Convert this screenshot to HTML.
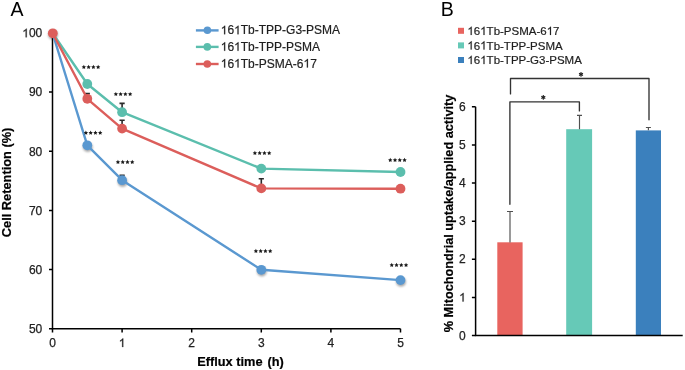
<!DOCTYPE html>
<html><head><meta charset="utf-8">
<style>
html,body{margin:0;padding:0;background:#fff;width:685px;height:370px;overflow:hidden}
svg{display:block;will-change:transform}
text{font-family:"Liberation Sans",sans-serif}
.tk{font-size:12px;fill:#222;stroke:#222;stroke-width:0.25px}
.ttl{font-size:12.8px;font-weight:bold;fill:#000;stroke:#000;stroke-width:0.2px}
.one{fill-opacity:0;stroke-opacity:0}
.lg{font-size:12px;fill:#1e1e1e;stroke:#1e1e1e;stroke-width:0.2px}
</style></head>
<body>
<svg width="685" height="370" viewBox="0 0 685 370">
<defs>
<filter id="blur" x="-50%" y="-50%" width="200%" height="200%"><feGaussianBlur stdDeviation="1.3"/></filter>
<path id="star" d="M0.00 -2.30 L0.68 -0.93 L2.19 -0.71 L1.09 0.36 L1.35 1.86 L0.00 1.15 L-1.35 1.86 L-1.09 0.36 L-2.19 -0.71 L-0.68 -0.93Z"/>
</defs>
<!-- Panel A -->
<text x="10.5" y="15.5" style="font-size:19.5px">A</text>
<g stroke="#000" stroke-width="1.5" fill="none">
<path d="M52.5 33 V328.8 H400.5"/>
<path d="M49 33.0H52.5 M49 92.1H52.5 M49 151.3H52.5 M49 210.4H52.5 M49 269.5H52.5 M49 328.8H52.5"/>
<path d="M52.5 328.8V332.6 M122.1 328.8V332.6 M191.7 328.8V332.6 M261.3 328.8V332.6 M330.9 328.8V332.6 M400.5 328.8V332.6"/>
</g>
<g class="tk" text-anchor="end">
<text x="42.3" y="37.3"><tspan class="one">1</tspan>00</text>
<text x="42.3" y="96.4">90</text>
<text x="42.3" y="155.6">80</text>
<text x="42.3" y="214.7">70</text>
<text x="42.3" y="273.8">60</text>
<text x="42.3" y="333.1">50</text>
</g>
<g class="tk" text-anchor="middle">
<text x="52.5" y="347">0</text><text x="122.1" y="347"><tspan class="one">1</tspan></text><text x="191.7" y="347">2</text><text x="261.3" y="347">3</text><text x="330.9" y="347">4</text><text x="400.5" y="347">5</text>
</g>
<g transform="translate(0 365.5) scale(1 1.06)"><text class="ttl" x="197.2" y="0">Efflux time</text><text class="ttl" x="267.4" y="0">(h)</text></g>
<text class="ttl" transform="translate(10.8 182.4) rotate(-90)" text-anchor="middle">Cell Retention (%)</text>
<!-- shadows -->
<g fill="#000" fill-opacity="0.34" filter="url(#blur)"><circle cx="53.0" cy="34.8" r="4.90"/><circle cx="87.8" cy="147.1" r="4.90"/><circle cx="122.6" cy="182.0" r="4.90"/><circle cx="261.8" cy="271.6" r="4.90"/><circle cx="401.0" cy="281.9" r="4.90"/></g>
<!-- error bars -->
<g stroke="#2a2a2a" stroke-width="1.6" fill="none"><path d="M87.3 98.8V93.6 M84.7 93.6H89.9"/><path d="M122.1 112.2V103.4 M119.5 103.4H124.7"/><path d="M122.1 128.6V120.2 M119.5 120.2H124.7"/><path d="M122.1 180.2V175.3 M119.5 175.3H124.7"/><path d="M261.3 188.4V178.8 M258.7 178.8H263.9"/></g>
<!-- series -->
<g fill="none" stroke-width="2.4" stroke-linejoin="round">
<polyline stroke="#5A98D0" points="52.5,33.0 87.3,145.3 122.1,180.2 261.3,269.8 400.5,280.1"/>
<polyline stroke="#5BBEAD" points="52.5,33.0 87.3,84.0 122.1,112.2 261.3,168.6 400.5,172.0"/>
<polyline stroke="#DC5E5B" points="52.5,33.0 87.3,98.8 122.1,128.6 261.3,188.4 400.5,188.7"/>
</g>
<g fill="#5A98D0"><circle cx="87.3" cy="145.3" r="4.90"/><circle cx="122.1" cy="180.2" r="4.90"/><circle cx="261.3" cy="269.8" r="4.90"/><circle cx="400.5" cy="280.1" r="4.90"/></g>
<g fill="#5BBEAD"><circle cx="87.3" cy="84.0" r="4.90"/><circle cx="122.1" cy="112.2" r="4.90"/><circle cx="261.3" cy="168.6" r="4.90"/><circle cx="400.5" cy="172.0" r="4.90"/></g>
<g fill="#DC5E5B"><circle cx="87.3" cy="98.8" r="4.90"/><circle cx="122.1" cy="128.6" r="4.90"/><circle cx="261.3" cy="188.4" r="4.90"/><circle cx="400.5" cy="188.7" r="4.90"/><circle cx="52.8" cy="33.3" r="4.90"/></g>
<!-- stars -->
<g fill="#1a1a1a">
<use href="#star" x="83.85" y="67.10"/><use href="#star" x="88.62" y="67.10"/><use href="#star" x="93.38" y="67.10"/><use href="#star" x="98.15" y="67.10"/>
<use href="#star" x="115.85" y="94.20"/><use href="#star" x="120.62" y="94.20"/><use href="#star" x="125.38" y="94.20"/><use href="#star" x="130.15" y="94.20"/>
<use href="#star" x="85.90" y="132.90"/><use href="#star" x="90.67" y="132.90"/><use href="#star" x="95.43" y="132.90"/><use href="#star" x="100.20" y="132.90"/>
<use href="#star" x="117.95" y="162.10"/><use href="#star" x="122.72" y="162.10"/><use href="#star" x="127.48" y="162.10"/><use href="#star" x="132.25" y="162.10"/>
<use href="#star" x="254.90" y="153.10"/><use href="#star" x="259.67" y="153.10"/><use href="#star" x="264.43" y="153.10"/><use href="#star" x="269.20" y="153.10"/>
<use href="#star" x="390.25" y="160.10"/><use href="#star" x="395.02" y="160.10"/><use href="#star" x="399.78" y="160.10"/><use href="#star" x="404.55" y="160.10"/>
<use href="#star" x="255.90" y="251.10"/><use href="#star" x="260.67" y="251.10"/><use href="#star" x="265.43" y="251.10"/><use href="#star" x="270.20" y="251.10"/>
<use href="#star" x="391.75" y="265.10"/><use href="#star" x="396.52" y="265.10"/><use href="#star" x="401.28" y="265.10"/><use href="#star" x="406.05" y="265.10"/>
</g>
<!-- legend A -->
<g stroke-width="2.4">
<line x1="195.9" y1="30.4" x2="218.6" y2="30.4" stroke="#5A98D0"/>
<line x1="195.9" y1="46.9" x2="218.6" y2="46.9" stroke="#5BBEAD"/>
<line x1="195.9" y1="64" x2="218.6" y2="64" stroke="#DC5E5B"/>
</g>
<circle cx="207.4" cy="30.3" r="3.8" fill="#5A98D0"/>
<circle cx="207.3" cy="46.9" r="3.8" fill="#5BBEAD"/>
<circle cx="207.3" cy="64" r="3.8" fill="#DC5E5B"/>
<g class="lg">
<text x="220.7" y="34.3"><tspan class="one">1</tspan>6<tspan class="one">1</tspan>Tb-TPP-G3-PSMA</text>
<text x="220.7" y="50.8"><tspan class="one">1</tspan>6<tspan class="one">1</tspan>Tb-TPP-PSMA</text>
<text x="220.7" y="67.5"><tspan class="one">1</tspan>6<tspan class="one">1</tspan>Tb-PSMA-6<tspan class="one">1</tspan>7</text>
</g>
<!-- Panel B -->
<rect x="497.3" y="242.3" width="25.3" height="93.1" fill="#E8645F"/>
<rect x="566.2" y="129.2" width="25.9" height="206.2" fill="#66C9B7"/>
<rect x="635.8" y="130.4" width="25.2" height="205" fill="#3B80BD"/>
<text x="440.8" y="15.6" style="font-size:19.5px">B</text>
<g stroke="#000" stroke-width="1.5" fill="none">
<path d="M475.6 106.7 V335.6 H682.7"/>
<path d="M471.9 335.6H475.6 M471.9 297.5H475.6 M471.9 259.3H475.6 M471.9 221.2H475.6 M471.9 183.0H475.6 M471.9 144.9H475.6 M471.9 106.7H475.6"/>
</g>
<g class="tk" text-anchor="end">
<text x="465.8" y="339.6">0</text>
<text x="465.8" y="301.5"><tspan class="one">1</tspan></text>
<text x="465.8" y="263.3">2</text>
<text x="465.8" y="225.2">3</text>
<text x="465.8" y="187.0">4</text>
<text x="465.8" y="148.9">5</text>
<text x="465.8" y="110.7">6</text>
</g>
<text class="ttl" transform="translate(453.4 213.4) rotate(-90)" text-anchor="middle" style="font-size:12.7px">% Mitochondrial uptake/applied activity</text>
<g stroke="#505050" stroke-width="1.15" fill="none">
<path d="M510 242.4V211.5 M507 211.5H513"/>
<path d="M579.5 129.2V115.3 M577 115.3H582"/>
<path d="M648.4 130.2V127.5 M645.9 127.5H650.9"/>
</g>
<g stroke="#333" stroke-width="1.35" fill="none" stroke-linejoin="round" stroke-linecap="round">
<path d="M509.9 204.3V101.8H579.4V110.9"/>
<path d="M510.5 93.9V78.5H649V119.8"/>
</g>
<path stroke="#222" stroke-width="1.1" fill="none" d="M543.30 95.10L543.30 99.70M541.31 96.25L545.29 98.55M545.29 96.25L541.31 98.55M581.00 72.10L581.00 76.70M579.01 73.25L582.99 75.55M582.99 73.25L579.01 75.55"/>
<rect x="458" y="27.8" width="6" height="6" fill="#E8645F"/>
<rect x="458" y="42.4" width="6" height="6" fill="#66C9B7"/>
<rect x="458" y="57" width="6" height="6" fill="#3B80BD"/>
<g class="lg" style="font-size:11.5px">
<text x="467.4" y="34.9"><tspan class="one">1</tspan>6<tspan class="one">1</tspan>Tb-PSMA-6<tspan class="one">1</tspan>7</text>
<text x="467.4" y="49.5"><tspan class="one">1</tspan>6<tspan class="one">1</tspan>Tb-TPP-PSMA</text>
<text x="467.4" y="64.1"><tspan class="one">1</tspan>6<tspan class="one">1</tspan>Tb-TPP-G3-PSMA</text>
</g>
<path transform="translate(22.253 37.300) scale(0.005859 -0.005859)" fill="rgb(34, 34, 34)" stroke="rgb(34, 34, 34)" stroke-width="42.7" d="M763 0L583 0L583 1147Q518 1085 412 1023Q306 961 222 930L222 1104Q373 1175 486 1276Q599 1377 646 1472L763 1472Z"/>
<path transform="translate(118.756 347.000) scale(0.005859 -0.005859)" fill="rgb(34, 34, 34)" stroke="rgb(34, 34, 34)" stroke-width="42.7" d="M763 0L583 0L583 1147Q518 1085 412 1023Q306 961 222 930L222 1104Q373 1175 486 1276Q599 1377 646 1472L763 1472Z"/>
<path transform="translate(220.700 34.300) scale(0.005859 -0.005859)" fill="rgb(30, 30, 30)" stroke="rgb(30, 30, 30)" stroke-width="34.1" d="M763 0L583 0L583 1147Q518 1085 412 1023Q306 961 222 930L222 1104Q373 1175 486 1276Q599 1377 646 1472L763 1472Z"/>
<path transform="translate(234.075 34.300) scale(0.005859 -0.005859)" fill="rgb(30, 30, 30)" stroke="rgb(30, 30, 30)" stroke-width="34.1" d="M763 0L583 0L583 1147Q518 1085 412 1023Q306 961 222 930L222 1104Q373 1175 486 1276Q599 1377 646 1472L763 1472Z"/>
<path transform="translate(220.700 50.800) scale(0.005859 -0.005859)" fill="rgb(30, 30, 30)" stroke="rgb(30, 30, 30)" stroke-width="34.1" d="M763 0L583 0L583 1147Q518 1085 412 1023Q306 961 222 930L222 1104Q373 1175 486 1276Q599 1377 646 1472L763 1472Z"/>
<path transform="translate(234.075 50.800) scale(0.005859 -0.005859)" fill="rgb(30, 30, 30)" stroke="rgb(30, 30, 30)" stroke-width="34.1" d="M763 0L583 0L583 1147Q518 1085 412 1023Q306 961 222 930L222 1104Q373 1175 486 1276Q599 1377 646 1472L763 1472Z"/>
<path transform="translate(220.700 67.500) scale(0.005859 -0.005859)" fill="rgb(30, 30, 30)" stroke="rgb(30, 30, 30)" stroke-width="34.1" d="M763 0L583 0L583 1147Q518 1085 412 1023Q306 961 222 930L222 1104Q373 1175 486 1276Q599 1377 646 1472L763 1472Z"/>
<path transform="translate(234.075 67.500) scale(0.005859 -0.005859)" fill="rgb(30, 30, 30)" stroke="rgb(30, 30, 30)" stroke-width="34.1" d="M763 0L583 0L583 1147Q518 1085 412 1023Q306 961 222 930L222 1104Q373 1175 486 1276Q599 1377 646 1472L763 1472Z"/>
<path transform="translate(303.450 67.500) scale(0.005859 -0.005859)" fill="rgb(30, 30, 30)" stroke="rgb(30, 30, 30)" stroke-width="34.1" d="M763 0L583 0L583 1147Q518 1085 412 1023Q306 961 222 930L222 1104Q373 1175 486 1276Q599 1377 646 1472L763 1472Z"/>
<path transform="translate(459.112 301.500) scale(0.005859 -0.005859)" fill="rgb(34, 34, 34)" stroke="rgb(34, 34, 34)" stroke-width="42.7" d="M763 0L583 0L583 1147Q518 1085 412 1023Q306 961 222 930L222 1104Q373 1175 486 1276Q599 1377 646 1472L763 1472Z"/>
<path transform="translate(467.400 34.900) scale(0.005615 -0.005615)" fill="rgb(30, 30, 30)" stroke="rgb(30, 30, 30)" stroke-width="35.6" d="M763 0L583 0L583 1147Q518 1085 412 1023Q306 961 222 930L222 1104Q373 1175 486 1276Q599 1377 646 1472L763 1472Z"/>
<path transform="translate(480.212 34.900) scale(0.005615 -0.005615)" fill="rgb(30, 30, 30)" stroke="rgb(30, 30, 30)" stroke-width="35.6" d="M763 0L583 0L583 1147Q518 1085 412 1023Q306 961 222 930L222 1104Q373 1175 486 1276Q599 1377 646 1472L763 1472Z"/>
<path transform="translate(546.697 34.900) scale(0.005615 -0.005615)" fill="rgb(30, 30, 30)" stroke="rgb(30, 30, 30)" stroke-width="35.6" d="M763 0L583 0L583 1147Q518 1085 412 1023Q306 961 222 930L222 1104Q373 1175 486 1276Q599 1377 646 1472L763 1472Z"/>
<path transform="translate(467.400 49.500) scale(0.005615 -0.005615)" fill="rgb(30, 30, 30)" stroke="rgb(30, 30, 30)" stroke-width="35.6" d="M763 0L583 0L583 1147Q518 1085 412 1023Q306 961 222 930L222 1104Q373 1175 486 1276Q599 1377 646 1472L763 1472Z"/>
<path transform="translate(480.212 49.500) scale(0.005615 -0.005615)" fill="rgb(30, 30, 30)" stroke="rgb(30, 30, 30)" stroke-width="35.6" d="M763 0L583 0L583 1147Q518 1085 412 1023Q306 961 222 930L222 1104Q373 1175 486 1276Q599 1377 646 1472L763 1472Z"/>
<path transform="translate(467.400 64.100) scale(0.005615 -0.005615)" fill="rgb(30, 30, 30)" stroke="rgb(30, 30, 30)" stroke-width="35.6" d="M763 0L583 0L583 1147Q518 1085 412 1023Q306 961 222 930L222 1104Q373 1175 486 1276Q599 1377 646 1472L763 1472Z"/>
<path transform="translate(480.212 64.100) scale(0.005615 -0.005615)" fill="rgb(30, 30, 30)" stroke="rgb(30, 30, 30)" stroke-width="35.6" d="M763 0L583 0L583 1147Q518 1085 412 1023Q306 961 222 930L222 1104Q373 1175 486 1276Q599 1377 646 1472L763 1472Z"/>
</svg>
</body></html>
